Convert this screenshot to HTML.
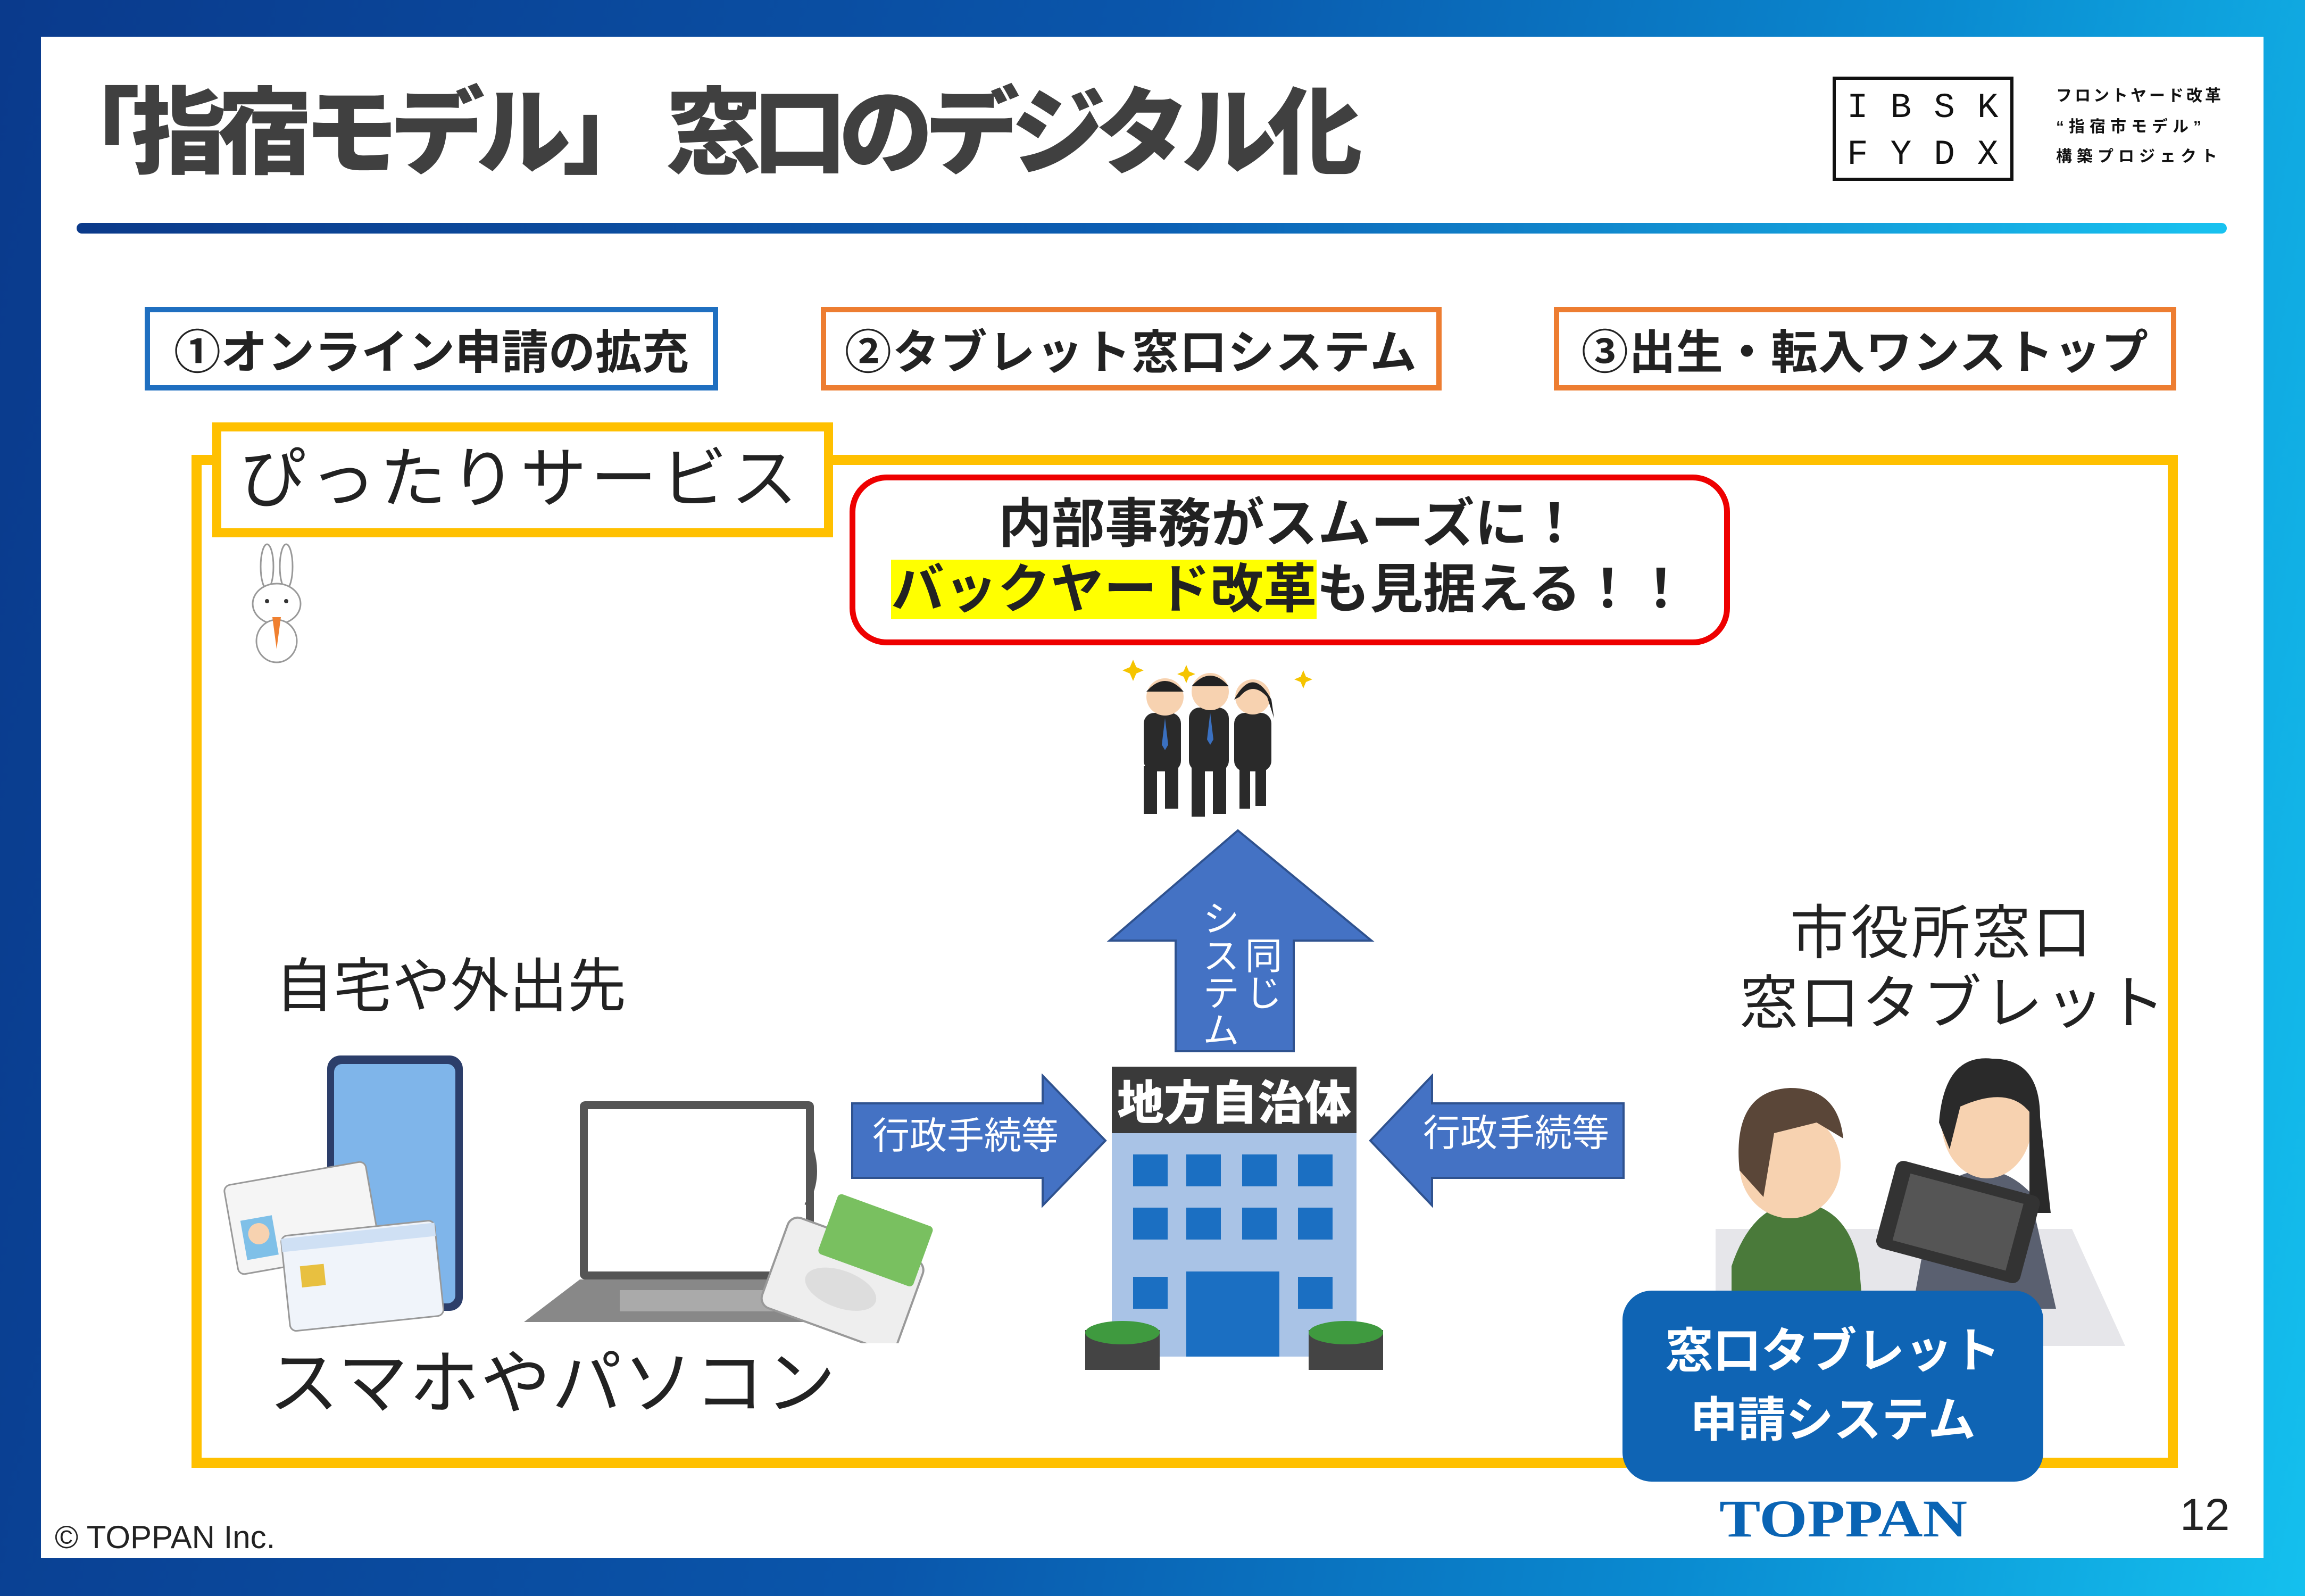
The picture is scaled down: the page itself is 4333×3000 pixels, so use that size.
<!DOCTYPE html>
<html><head><meta charset="utf-8">
<style>
*{margin:0;padding:0;box-sizing:border-box}
body{width:4333px;height:3000px;position:relative;overflow:hidden;background:linear-gradient(100deg,#0a3a8c 0%,#0a56ab 45%,#0a8ad0 75%,#14c0ee 100%);font-family:"Liberation Sans","Noto Sans CJK JP",sans-serif}
.a{position:absolute}
.panel{left:77px;top:69px;width:4178px;height:2860px;background:#fff}
.t{white-space:nowrap;line-height:1}
.box{border:10px solid;display:flex;align-items:center;justify-content:center;font-weight:bold;font-size:88px;color:#222;background:#fff}
</style></head><body>
<div class="a panel"></div>
<div class="a t" style="left:85px;top:162px;font-size:178px;font-weight:900;color:#404040;letter-spacing:-16px">「指宿モデル」 窓口のデジタル化</div>
<div class="a" style="left:144px;top:419px;width:4042px;height:20px;border-radius:10px;background:linear-gradient(90deg,#0b3a8a,#0b5fb4 50%,#18c2f0)"></div>
<!-- logo -->
<div class="a" style="left:3445px;top:144px;width:340px;height:196px;border:6px solid #111"></div>
<div class="a t" style="left:3472px;top:170px;font-family:'Liberation Mono',monospace;font-size:66px;letter-spacing:42px;color:#111">IBSK</div>
<div class="a t" style="left:3472px;top:258px;font-family:'Liberation Mono',monospace;font-size:66px;letter-spacing:42px;color:#111">FYDX</div>
<div class="a t" style="left:3865px;top:166px;font-size:30px;font-weight:bold;color:#111;letter-spacing:5px">フロントヤード改革</div>
<div class="a t" style="left:3865px;top:224px;font-size:30px;font-weight:bold;color:#111;letter-spacing:9px">“指宿市モデル”</div>
<div class="a t" style="left:3865px;top:280px;font-size:30px;font-weight:bold;color:#111;letter-spacing:9px">構築プロジェクト</div>
<!-- three boxes -->
<div class="a box" style="left:272px;top:577px;width:1078px;height:157px;border-color:#1f6fc0">①オンライン申請の拡充</div>
<div class="a box" style="left:1543px;top:577px;width:1167px;height:157px;border-color:#ed7d31;letter-spacing:2px">②タブレット窓口システム</div>
<div class="a box" style="left:2921px;top:577px;width:1170px;height:157px;border-color:#ed7d31;letter-spacing:1px">③出生・転入ワンストップ</div>
<!-- yellow frame -->
<div class="a" style="left:360px;top:855px;width:3734px;height:1904px;border:19px solid #ffc000"></div>
<div class="a" style="left:399px;top:794px;width:1167px;height:216px;border:17px solid #ffc000;background:#fff"></div>
<div class="a t" style="left:450px;top:838px;font-size:125px;color:#222;letter-spacing:7px">ぴったりサービス</div>
<!-- rabbit -->
<svg class="a" style="left:450px;top:1020px" width="140" height="230" viewBox="0 0 140 230">
<ellipse cx="52" cy="45" rx="12" ry="42" fill="#fff" stroke="#999" stroke-width="3"/>
<ellipse cx="88" cy="45" rx="12" ry="42" fill="#fff" stroke="#999" stroke-width="3"/>
<ellipse cx="70" cy="115" rx="45" ry="38" fill="#fff" stroke="#999" stroke-width="3"/>
<ellipse cx="70" cy="185" rx="38" ry="40" fill="#fff" stroke="#999" stroke-width="3"/>
<path d="M62 140 L78 140 L70 200Z" fill="#f08030"/>
<circle cx="52" cy="110" r="4" fill="#333"/><circle cx="88" cy="110" r="4" fill="#333"/>
</svg>
<!-- red box -->
<div class="a" style="left:1597px;top:892px;width:1655px;height:321px;border:11px solid #e00;border-radius:70px;background:#fff"></div>
<div class="a t" style="left:1597px;top:935px;width:1655px;text-align:center;font-size:100px;font-weight:bold;color:#222">内部事務がスムーズに！</div>
<div class="a t" style="left:1675px;top:1058px;font-size:100px;font-weight:bold;color:#222;letter-spacing:0px"><span style="background:#ffff00">バックヤード改革</span>も見据える！！</div>
<!-- people running -->
<svg class="a" style="left:2110px;top:1240px" width="360" height="310" viewBox="0 0 360 310">
<g fill="#2a2a2a">
<rect x="40" y="100" width="70" height="110" rx="20"/><rect x="40" y="200" width="25" height="90"/><rect x="80" y="200" width="25" height="80"/>
<rect x="125" y="90" width="75" height="120" rx="20"/><rect x="130" y="200" width="25" height="95"/><rect x="170" y="200" width="25" height="90"/>
<rect x="210" y="100" width="70" height="110" rx="20"/><rect x="220" y="200" width="20" height="80"/><rect x="250" y="200" width="20" height="75"/>
</g>
<circle cx="80" cy="70" r="35" fill="#f7d2b0"/><path d="M45 60 Q80 20 115 60 Z" fill="#222"/>
<circle cx="165" cy="60" r="35" fill="#f7d2b0"/><path d="M130 50 Q165 10 200 50 Z" fill="#222"/>
<circle cx="245" cy="70" r="33" fill="#f7d2b0"/><path d="M210 75 Q245 10 280 75 L285 110 L272 70 Q245 40 220 70Z" fill="#222"/>
<path d="M80 110 l-6 50 6 10 6-10z M165 100 l-6 50 6 10 6-10z" fill="#3a70c0"/>
<g fill="#f5c400"><path d="M20 0 l6 14 14 6-14 6-6 14-6-14-14-6 14-6z"/><path d="M120 -10 l5 12 12 5-12 5-5 12-5-12-12-5 12-5z" transform="translate(0,20)"/><path d="M340 20 l5 12 12 5-12 5-5 12-5-12-12-5 12-5z"/></g>
</svg>
<!-- up arrow -->
<svg class="a" style="left:2080px;top:1555px" width="505" height="425" viewBox="0 0 505 425">
<path d="M247 6 L498 213 L352 213 L352 421 L130 421 L130 213 L6 213 Z" fill="#4472c4" stroke="#2f528f" stroke-width="4"/>
</svg>
<div class="a" style="left:2245px;top:1690px;width:80px;font-size:70px;color:#fff;line-height:1.02;writing-mode:vertical-rl">システム</div>
<div class="a" style="left:2325px;top:1760px;width:80px;font-size:70px;color:#fff;line-height:1.02;writing-mode:vertical-rl">同じ</div>
<!-- right arrow -->
<svg class="a" style="left:1598px;top:2018px" width="485" height="252" viewBox="0 0 485 252">
<path d="M4 56 L362 56 L362 4 L480 126 L362 248 L362 196 L4 196Z" fill="#4472c4" stroke="#2f528f" stroke-width="4"/>
</svg>
<div class="a t" style="left:1640px;top:2100px;font-size:70px;color:#fff">行政手続等</div>
<!-- left arrow -->
<svg class="a" style="left:2572px;top:2018px" width="485" height="252" viewBox="0 0 485 252">
<path d="M480 56 L120 56 L120 4 L4 126 L120 248 L120 196 L480 196Z" fill="#4472c4" stroke="#2f528f" stroke-width="4"/>
</svg>
<div class="a t" style="left:2675px;top:2095px;font-size:70px;color:#fff">行政手続等</div>
<!-- building -->
<svg class="a" style="left:2035px;top:2000px" width="570" height="580" viewBox="0 0 570 580">
<rect x="55" y="5" width="460" height="125" fill="#3a3a3a"/>
<rect x="55" y="130" width="460" height="420" fill="#a9c3e6"/>
<g fill="#1b6fc2">
<rect x="95" y="170" width="65" height="60"/><rect x="195" y="170" width="65" height="60"/><rect x="300" y="170" width="65" height="60"/><rect x="405" y="170" width="65" height="60"/>
<rect x="95" y="270" width="65" height="60"/><rect x="195" y="270" width="65" height="60"/><rect x="300" y="270" width="65" height="60"/><rect x="405" y="270" width="65" height="60"/>
<rect x="95" y="400" width="65" height="60"/><rect x="405" y="400" width="65" height="60"/>
<rect x="195" y="390" width="175" height="160"/>
</g>
<rect x="5" y="500" width="140" height="75" fill="#444"/><rect x="425" y="500" width="140" height="75" fill="#444"/>
<ellipse cx="75" cy="505" rx="70" ry="22" fill="#3f9a3f"/><ellipse cx="495" cy="505" rx="70" ry="22" fill="#3f9a3f"/>
</svg>
<div class="a t" style="left:2100px;top:2030px;font-size:88px;font-weight:900;color:#fff">地方自治体</div>
<!-- left labels -->
<div class="a t" style="left:517px;top:1800px;font-size:110px;color:#222">自宅や外出先</div>
<div class="a t" style="left:505px;top:2535px;font-size:132px;color:#222;letter-spacing:2px">スマホやパソコン</div>
<!-- phone -->
<svg class="a" style="left:410px;top:1980px" width="470" height="560" viewBox="0 0 470 560">
<rect x="205" y="4" width="255" height="480" rx="25" fill="#2c3e6a"/>
<rect x="218" y="20" width="228" height="450" rx="15" fill="#7fb5ea"/>
<g transform="rotate(-10 120 240)"><rect x="10" y="230" width="270" height="170" rx="12" fill="#f5f5f5" stroke="#999" stroke-width="3"/><rect x="30" y="300" width="60" height="75" fill="#7fc0e8"/><circle cx="60" cy="330" r="20" fill="#f7d2b0"/></g>
<g transform="rotate(-6 250 360)"><rect x="120" y="330" width="290" height="180" rx="12" fill="#f0f4fa" stroke="#999" stroke-width="3"/><rect x="150" y="390" width="45" height="40" fill="#e8c040"/><rect x="120" y="335" width="290" height="25" fill="#cfe0f4"/></g>
</svg>
<!-- laptop & reader -->
<svg class="a" style="left:985px;top:2065px" width="780" height="460" viewBox="0 0 780 460">
<rect x="105" y="5" width="440" height="335" rx="10" fill="#555"/>
<rect x="120" y="20" width="410" height="305" fill="#fff"/>
<path d="M105 340 L545 340 L590 420 L0 420 Z" fill="#888"/>
<rect x="180" y="360" width="300" height="40" fill="#aaa"/>
<path d="M530 200 Q560 150 540 90" stroke="#555" stroke-width="6" fill="none"/>
<g transform="rotate(20 600 360)"><rect x="460" y="260" width="270" height="180" rx="20" fill="#eee" stroke="#999" stroke-width="4"/><ellipse cx="595" cy="360" rx="70" ry="35" fill="#ddd"/></g>
<g transform="rotate(20 640 280)"><rect x="560" y="200" width="190" height="120" rx="8" fill="#79c060"/></g>
</svg>
<!-- right labels -->
<div class="a t" style="left:3365px;top:1700px;font-size:110px;color:#222;letter-spacing:4px">市役所窓口</div>
<div class="a t" style="left:3270px;top:1832px;font-size:110px;color:#222;letter-spacing:5px">窓口タブレット</div>
<!-- counter people -->
<svg class="a" style="left:3215px;top:1960px" width="790" height="600" viewBox="0 0 790 600">
<path d="M10 350 L680 350 L780 570 L10 570Z" fill="#e6e6ea"/>
<path d="M420 280 Q520 200 600 280 L650 500 L380 500Z" fill="#5a6070"/>
<ellipse cx="520" cy="150" rx="85" ry="105" fill="#f7d2b0"/>
<path d="M430 150 Q440 20 530 30 Q620 30 620 140 L640 320 L600 320 L600 130 Q560 80 470 120 L450 200Z" fill="#2a2a2a"/>
<path d="M40 420 Q80 300 170 300 Q260 310 280 420 L290 540 L40 540Z" fill="#4a7a3a"/>
<ellipse cx="150" cy="230" rx="95" ry="100" fill="#f7d2b0"/>
<path d="M55 240 Q40 90 150 85 Q240 85 250 180 L200 150 L120 170 L100 290 Z" fill="#5a4638"/>
<g transform="rotate(15 460 320)"><rect x="330" y="250" width="280" height="170" rx="15" fill="#333"/><rect x="360" y="270" width="220" height="130" fill="#555"/></g>
</svg>
<!-- blue system box -->
<div class="a" style="left:3050px;top:2426px;width:791px;height:359px;background:#0f64b4;border-radius:55px"></div>
<div class="a t" style="left:3050px;top:2495px;width:791px;text-align:center;font-size:90px;font-weight:bold;color:#fff">窓口タブレット</div>
<div class="a t" style="left:3050px;top:2625px;width:791px;text-align:center;font-size:90px;font-weight:bold;color:#fff">申請システム</div>
<!-- footer -->
<div class="a t" style="left:3232px;top:2805px;font-family:'Liberation Serif',serif;font-size:100px;font-weight:bold;color:#0a64b4;transform:scaleX(1.16);transform-origin:left">TOPPAN</div>
<div class="a t" style="left:4098px;top:2805px;font-size:84px;color:#222">12</div>
<div class="a t" style="left:103px;top:2860px;font-size:60px;color:#222">© TOPPAN Inc.</div>
</body></html>
